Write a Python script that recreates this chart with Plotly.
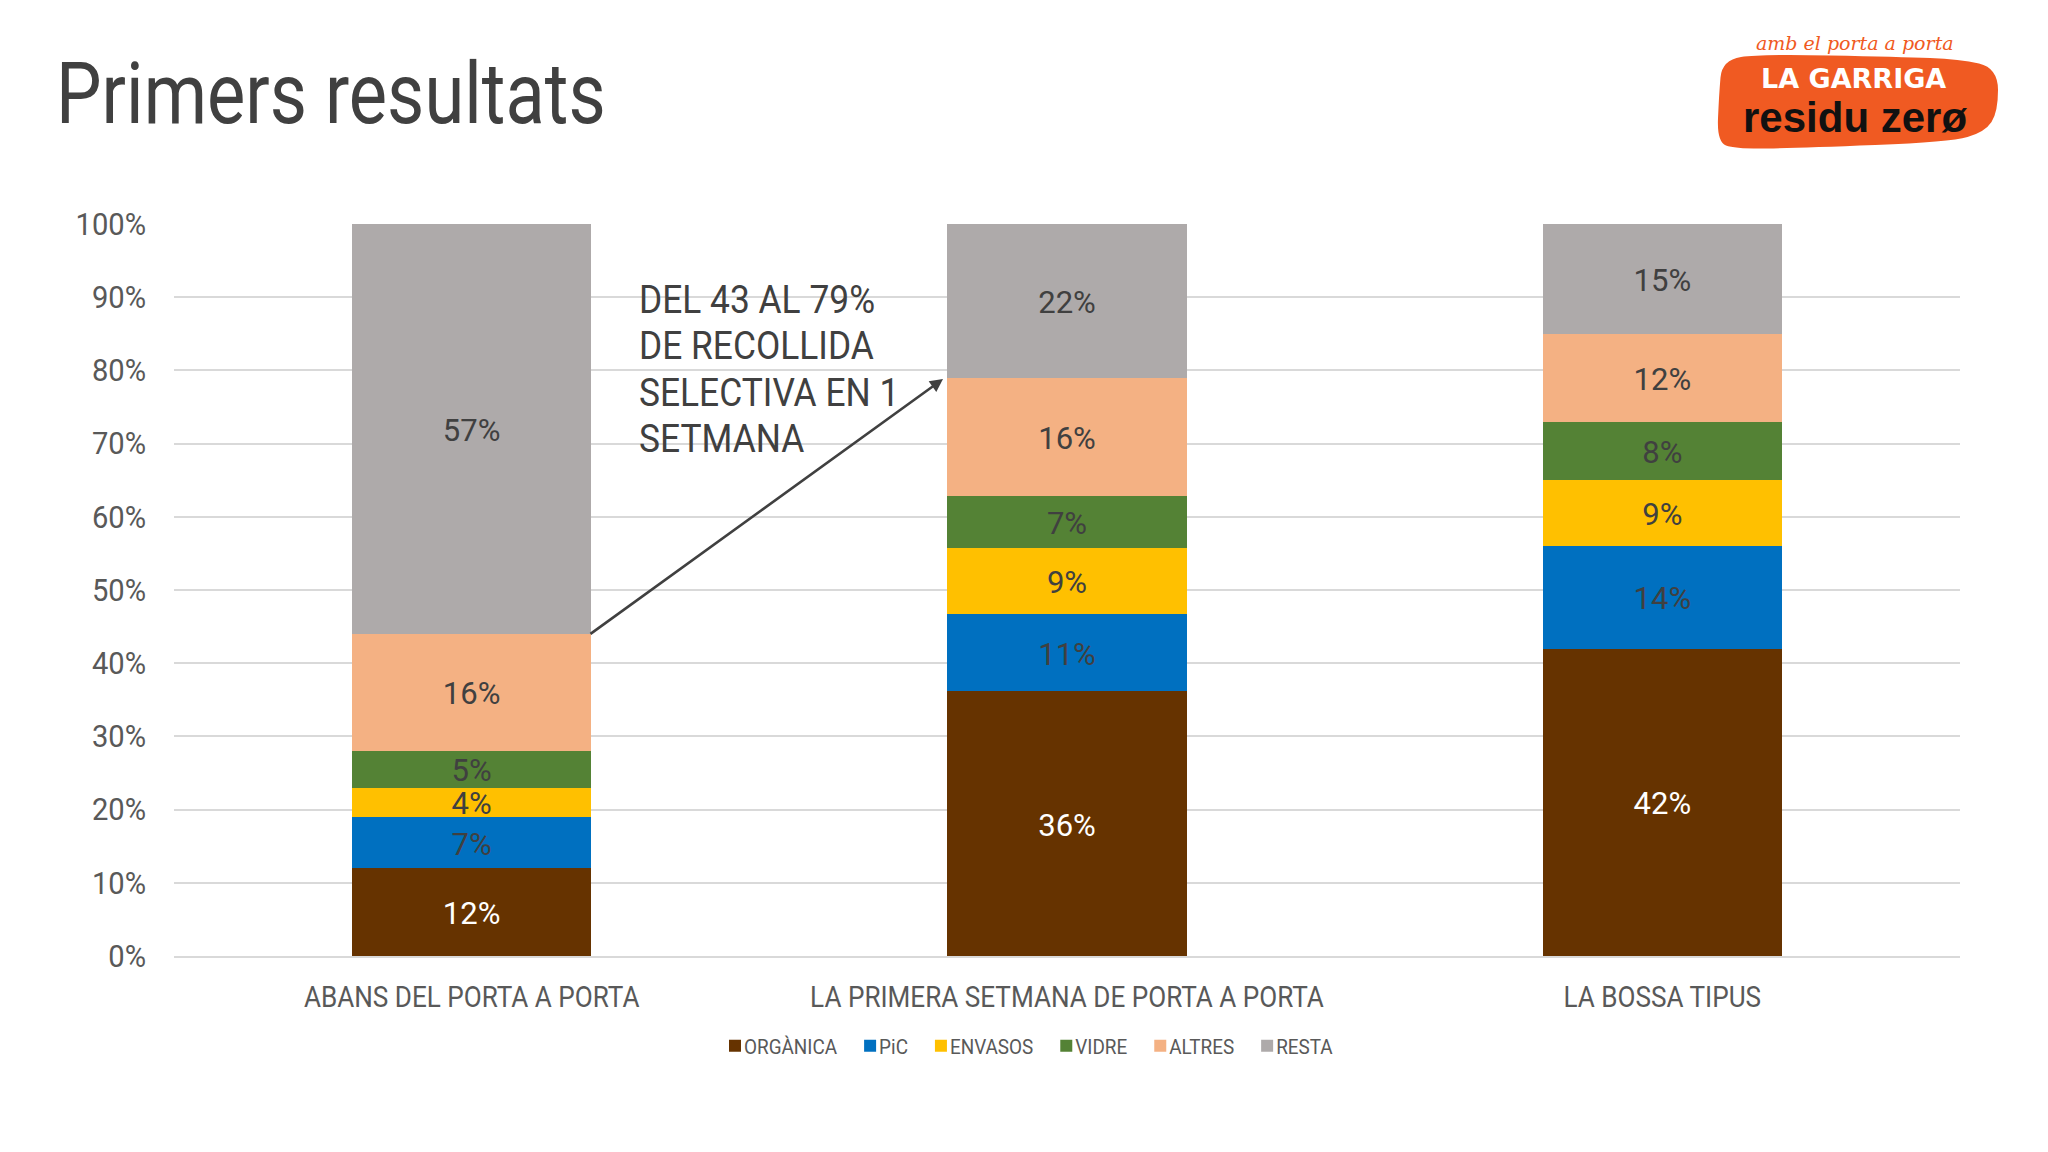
import plotly.graph_objects as go

categories = ["ABANS DEL PORTA A PORTA", "LA PRIMERA SETMANA DE PORTA A PORTA", "LA BOSSA TIPUS"]
organica = [12, 36.2, 42]
pic = [7, 10.5, 14]
envasos = [4, 9.1, 9]
vidre = [5, 7.1, 8]
altres = [16, 16.1, 12]
resta = [56, 21, 15]
label_organica = ["12%", "36%", "42%"]
label_pic = ["7%", "11%", "14%"]
label_envasos = ["4%", "9%", "9%"]
label_vidre = ["5%", "7%", "8%"]
label_altres = ["16%", "16%", "12%"]
label_resta = ["57%", "22%", "15%"]

FONT = "Roboto"
L, R, T, B = 174, 1960, 224, 956
def px(x): return (x - L) / (R - L)
def py(y): return (B - y) / (B - T)

series = [
    ("ORGÀNICA", organica, label_organica, "#663300", "#ffffff"),
    ("PiC", pic, label_pic, "#0070c0", "#404040"),
    ("ENVASOS", envasos, label_envasos, "#ffc000", "#404040"),
    ("VIDRE", vidre, label_vidre, "#548235", "#404040"),
    ("ALTRES", altres, label_altres, "#f4b183", "#404040"),
    ("RESTA", resta, label_resta, "#aeaaaa", "#404040"),
]

fig = go.Figure()
for name, vals, labels, color, tc in series:
    fig.add_bar(x=categories, y=vals, name=name, text=labels, textposition="inside",
                insidetextanchor="middle", constraintext="none", textangle=0,
                insidetextfont=dict(family=FONT, size=32, color=tc), marker_color=color,
                marker_line_width=0)

# logo blob, control points in page pixels, smoothed through edge midpoints
blob = [(1722, 60), (1760, 54), (1900, 57), (1960, 59), (1998, 68), (1998, 112), (1985, 132), (1950, 142),
        (1800, 148), (1735, 149), (1717, 142), (1719, 95)]
pts = [(px(x), py(y)) for x, y in blob]
mid = lambda a, b: ((a[0] + b[0]) / 2, (a[1] + b[1]) / 2)
start = mid(pts[-1], pts[0])
path = f"M{start[0]:.5f},{start[1]:.5f}"
for i, p in enumerate(pts):
    m = mid(p, pts[(i + 1) % len(pts)])
    path += f" Q{p[0]:.5f},{p[1]:.5f} {m[0]:.5f},{m[1]:.5f}"
path += " Z"

def note(x, y, text, size, color, family=FONT, anchor="left"):
    return dict(xref="paper", yref="paper", x=px(x), y=py(y), text=text, showarrow=False, xanchor=anchor,
                yanchor="middle", align="left", font=dict(family=family, size=size, color=color))

annotations = [
    note(54, 94, "Primers resultats", 85, "#404040"),
    note(637, 300, "DEL 43 AL 79%", 38, "#404040"),
    note(637, 346, "DE RECOLLIDA", 38, "#404040"),
    note(637, 393, "SELECTIVA EN 1", 38, "#404040"),
    note(637, 439, "SETMANA", 38, "#404040"),
    note(1855, 43, "<i>amb el porta a porta</i>", 19, "#f05a22", "DejaVu Serif", "center"),
    note(1853, 79, "<b>LA GARRIGA</b>", 27, "#ffffff", "DejaVu Sans", "center"),
    note(1855, 118, "<b>residu zerø</b>", 42, "#111111", "Liberation Sans", "center"),
    dict(xref="paper", yref="paper", axref="pixel", ayref="pixel", x=px(943), y=py(379), ax=589 - 943, ay=635 - 379,
         text="", showarrow=True, arrowhead=2, arrowsize=1, arrowwidth=2.6, arrowcolor="#404040"),
]

fig.update_layout(
    width=2048, height=1152, margin=dict(l=L, r=2048 - R, t=T, b=1152 - B),
    paper_bgcolor="#ffffff", plot_bgcolor="#ffffff", barmode="stack", bargap=0.598,
    font=dict(family=FONT, color="#595959"),
    shapes=[dict(type="path", xref="paper", yref="paper", path=path, fillcolor="#f05a22", line_width=0, layer="below")],
    annotations=annotations,
    legend=dict(orientation="h", x=0.5, xanchor="center", y=py(1046), yanchor="middle",
                font=dict(family=FONT, size=21, color="#595959"), traceorder="normal"),
    xaxis=dict(tickfont=dict(family=FONT, size=30, color="#595959"), ticks="", showline=True,
               linecolor="#d9d9d9", linewidth=2, ticklabelstandoff=13),
    yaxis=dict(range=[0, 100], dtick=10, ticksuffix="%", gridcolor="#d9d9d9", gridwidth=2, zeroline=False,
               tickfont=dict(family=FONT, size=31, color="#595959"), ticks="", ticklabelstandoff=27),
)
# the source typeface is much narrower than any installed one: condense the Roboto text horizontally,
# then close up the legend entries the way the source lays them out
finish = """
document.body.style.margin='0';
var factors = {85: 0.85, 38: 0.93, 32: 0.97, 31: 0.94, 30: 0.87, 21: 0.9};
document.querySelectorAll('svg text').forEach(function(t){
  if (t.style.fontFamily.indexOf('Roboto') < 0) return;
  var size = Math.round(parseFloat(t.style.fontSize));
  t.setAttribute('textLength', t.getComputedTextLength() * (factors[size] || 0.9));
  t.setAttribute('lengthAdjust', 'spacingAndGlyphs');
  if (size === 32) t.setAttribute('dy', 1);
});
var legend = document.querySelector('.legend');
var cur = 0;
legend.querySelectorAll('.traces').forEach(function(g){
  var t = g.querySelector('text');
  var y = g.getAttribute('transform').split(',')[1];
  g.setAttribute('transform', 'translate(' + cur + ',' + y);
  t.setAttribute('x', 29);
  cur += 29 + parseFloat(t.getAttribute('textLength')) + 13;
});
var ly = legend.getAttribute('transform').split(',')[1];
legend.setAttribute('transform', 'translate(715,' + ly);
"""
fig.write_html("out.html", post_script=finish, config={"displayModeBar": False})
